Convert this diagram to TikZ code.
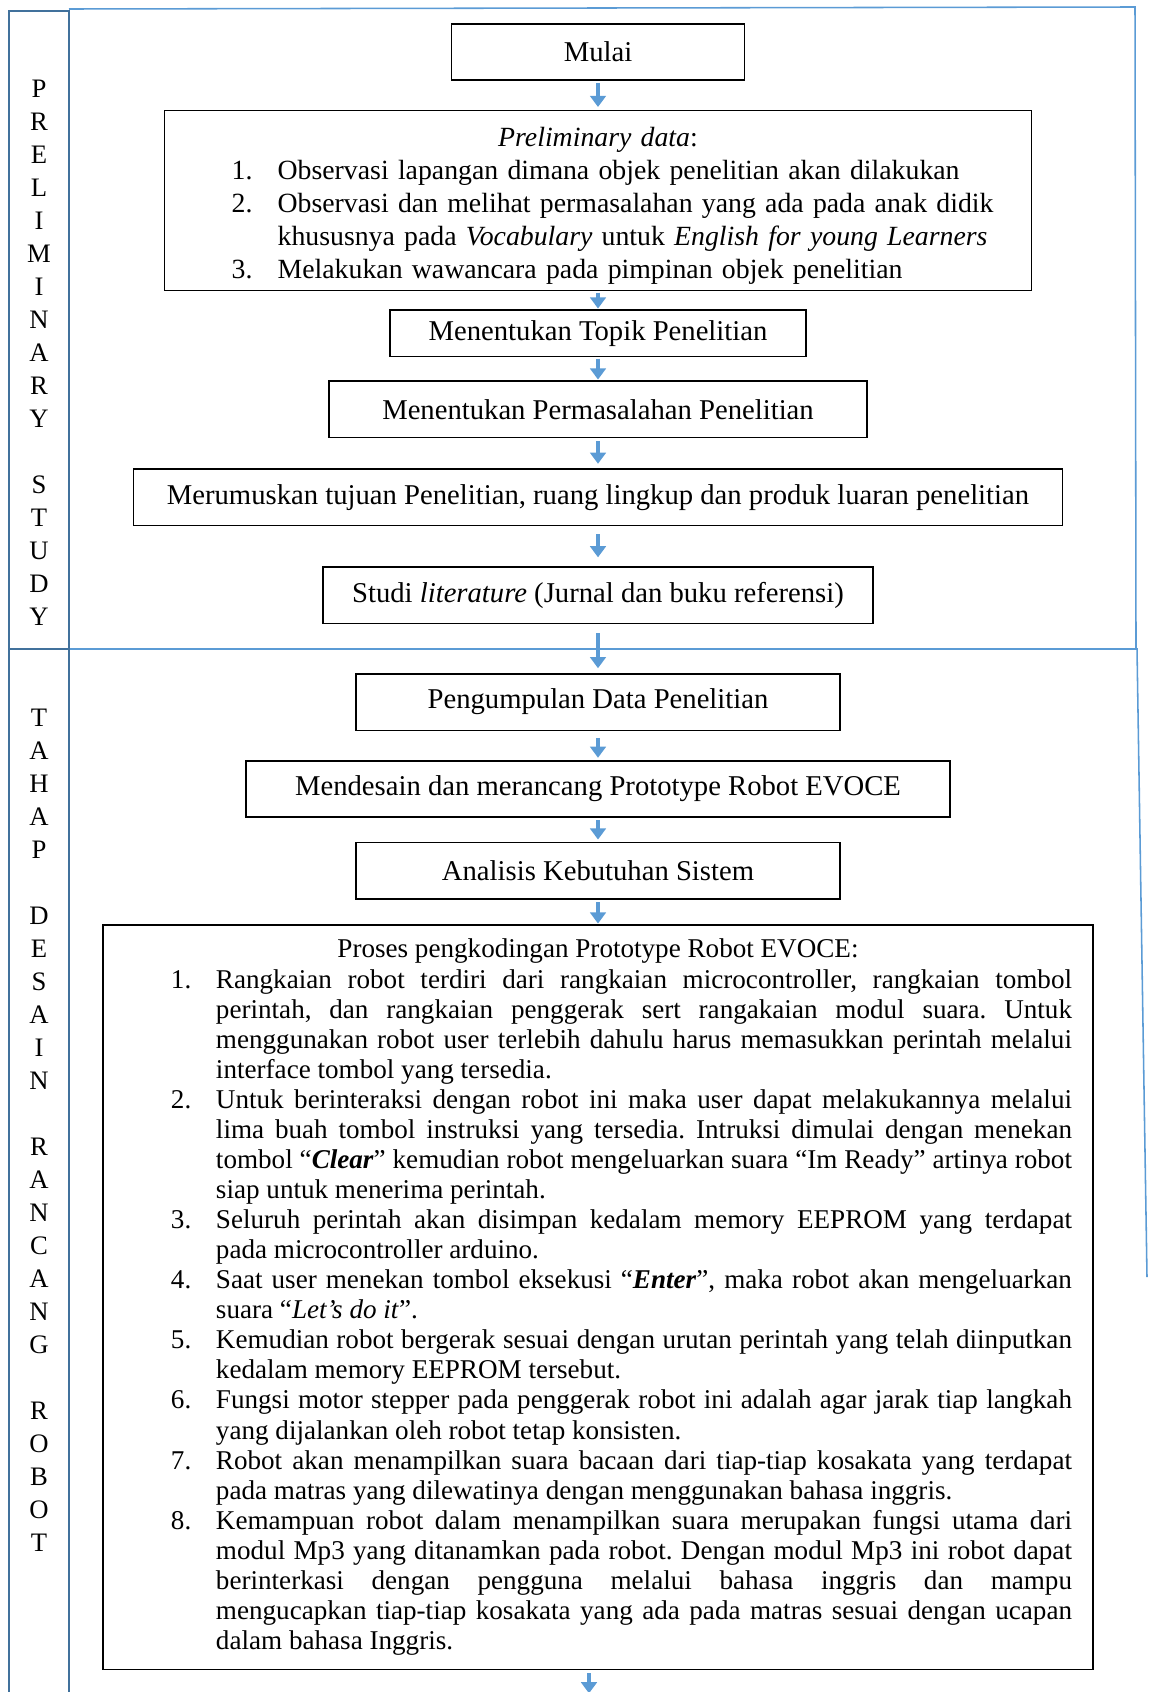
\documentclass[tikz,border=0pt]{standalone}
\usepackage{fontspec}
\setmainfont{Liberation Serif}
\usepackage{enumitem}
\usetikzlibrary{arrows.meta,positioning}
\definecolor{lanedark}{HTML}{41719C}
\definecolor{lanelight}{HTML}{5B9BD5}

\begin{document}
\frenchspacing
\begin{tikzpicture}[
    x=0.45pt, y=-0.45pt,
    node distance=11pt,
    box/.style={draw, line width=0.7pt, minimum height=25.4pt,
                font=\fontsize{12.9}{14.85}\selectfont, align=center, inner sep=2pt},
    listbox/.style={draw, line width=0.7pt, inner ysep=3pt},
    arr/.style={-{Triangle[length=5pt, width=7pt]}, line width=1.6pt, lanelight,
                shorten <=0.5pt, shorten >=0.3pt},
    lane/.style={lanelight, line width=0.7pt},
    col/.style={lanedark, line width=1.2pt},
    vtext/.style={font=\fontsize{12}{14.85}\selectfont, align=center, inner sep=0pt},
  ]
  \useasboundingbox (0,0) rectangle (1148,1692);

  % swim lanes
  \draw[lane] (69,9) -- (1135,7) -- (1136,649);
  \draw[lane] (69,649) -- (1137,649) -- (1147,1277);
  \draw[col] (9,11) rectangle (69,1710);
  \draw[col] (9,649) -- (69,649);
  \node[vtext] (studylbl) at (39,353)
    {P\\R\\E\\L\\I\\M\\I\\N\\A\\R\\Y\\[14.85pt]S\\T\\U\\D\\Y};
  \node[vtext] (robotlbl) at (39,1130)
    {T\\A\\H\\A\\P\\[14.85pt]D\\E\\S\\A\\I\\N\\[14.85pt]R\\A\\N\\C\\A\\N\\G\\[14.85pt]R\\O\\B\\O\\T};

  % preliminary study
  \node[box, minimum width=132pt] (mulai) at (598,52) {Mulai};
  \node[listbox, below=13pt of mulai, text width=382pt, inner xsep=4pt,
        minimum height=81pt, align=left, font=\fontsize{12.5}{14.85}\selectfont] (prelim)
    {{\centering\textit{Preliminary data}:\par}
     \begin{enumerate}[leftmargin=46.85pt, labelindent=26.15pt, labelwidth=20.7pt,
                       labelsep=0pt, align=left, itemsep=0pt, topsep=0pt, parsep=0pt, partopsep=0pt]
       \item Observasi lapangan dimana objek penelitian akan dilakukan
       \item Observasi dan melihat permasalahan yang ada pada anak didik\newline
             khususnya pada \textit{Vocabulary} untuk \textit{English for young Learners}
       \item Melakukan wawancara pada pimpinan objek penelitian
     \end{enumerate}\kern-4.4pt};
  \node[box, below=8pt of prelim, minimum width=187pt, minimum height=21pt] (topik)
    {Menentukan Topik Penelitian};
  \node[box, below=10.25pt of topik, minimum width=242pt] (masalah)
    {Menentukan Permasalahan Penelitian};
  \node[box, below=13.5pt of masalah, minimum width=418pt] (tujuan)
    {Merumuskan tujuan Penelitian, ruang lingkup dan produk luaran penelitian};
  \node[box, below=18pt of tujuan, minimum width=247.5pt] (studi)
    {Studi \textit{literature} (Jurnal dan buku referensi)};

  % tahap desain rancang robot
  \node[box, below=22pt of studi, minimum width=218pt] (data)
    {Pengumpulan Data Penelitian};
  \node[box, below=13pt of data, minimum width=317pt] (desain)
    {Mendesain dan merancang Prototype Robot EVOCE};
  \node[box, below=10.7pt of desain, minimum width=218pt] (analisis)
    {Analisis Kebutuhan Sistem};
  \node[listbox, below=11pt of analisis, text width=426.6pt, inner xsep=9.45pt,
        minimum height=335pt, align=justify, font=\fontsize{12.2}{13.53}\selectfont] (proses)
    {{\centering Proses pengkodingan Prototype Robot EVOCE:\par}
     \begin{enumerate}[leftmargin=41.4pt, labelindent=21.15pt, labelwidth=20.25pt,
                       labelsep=0pt, align=left, itemsep=0pt, topsep=0pt, parsep=0pt, partopsep=0pt]
       \item Rangkaian robot terdiri dari rangkaian microcontroller, rangkaian tombol\linebreak
             perintah, dan rangkaian penggerak sert rangakaian modul suara. Untuk\linebreak
             menggunakan robot user terlebih dahulu harus memasukkan perintah melalui\linebreak
             interface tombol yang tersedia.
       \item Untuk berinteraksi dengan robot ini maka user dapat melakukannya melalui\linebreak
             lima buah tombol instruksi yang tersedia. Intruksi dimulai dengan menekan\linebreak
             tombol “\textbf{\textit{Clear}}” kemudian robot mengeluarkan suara “Im Ready” artinya robot\linebreak
             siap untuk menerima perintah.
       \item Seluruh perintah akan disimpan kedalam memory EEPROM yang terdapat\linebreak
             pada microcontroller arduino.
       \item Saat user menekan tombol eksekusi “\textbf{\textit{Enter}}”, maka robot akan mengeluarkan\linebreak
             suara “\textit{Let’s do it}”.
       \item Kemudian robot bergerak sesuai dengan urutan perintah yang telah diinputkan\linebreak
             kedalam memory EEPROM tersebut.
       \item Fungsi motor stepper pada penggerak robot ini adalah agar jarak tiap langkah\linebreak
             yang dijalankan oleh robot tetap konsisten.
       \item Robot akan menampilkan suara bacaan dari tiap-tiap kosakata yang terdapat\linebreak
             pada matras yang dilewatinya dengan menggunakan bahasa inggris.
       \item Kemampuan robot dalam menampilkan suara merupakan fungsi utama dari\linebreak
             modul Mp3 yang ditanamkan pada robot. Dengan modul Mp3 ini robot dapat\linebreak
             berinterkasi dengan pengguna melalui bahasa inggris dan mampu\linebreak
             mengucapkan tiap-tiap kosakata yang ada pada matras sesuai dengan ucapan\linebreak
             dalam bahasa Inggris.
     \end{enumerate}};
  \coordinate (lanjut) at (589,1694);

  \draw[arr, shorten <=1pt, shorten >=1.3pt] (mulai) -- (prelim);
  \draw[arr] (prelim) -- (topik);
  \draw[arr] (topik) -- (masalah);
  \draw[arr, shorten <=1.3pt, shorten >=2pt] (masalah) -- (tujuan);
  \draw[arr, shorten <=3.6pt, shorten >=4pt] (tujuan) -- (studi);
  \draw[arr, shorten <=4pt, shorten >=2.2pt] (studi) -- (data);
  \draw[arr, shorten <=3pt, shorten >=1pt] (data) -- (desain);
  \draw[arr, shorten <=1pt, shorten >=1pt] (desain) -- (analisis);
  \draw[arr, shorten <=1pt] (analisis) -- (proses);
  \draw[arr, shorten <=1.3pt] (proses.south -| lanjut) -- (lanjut);
\end{tikzpicture}
\end{document}
